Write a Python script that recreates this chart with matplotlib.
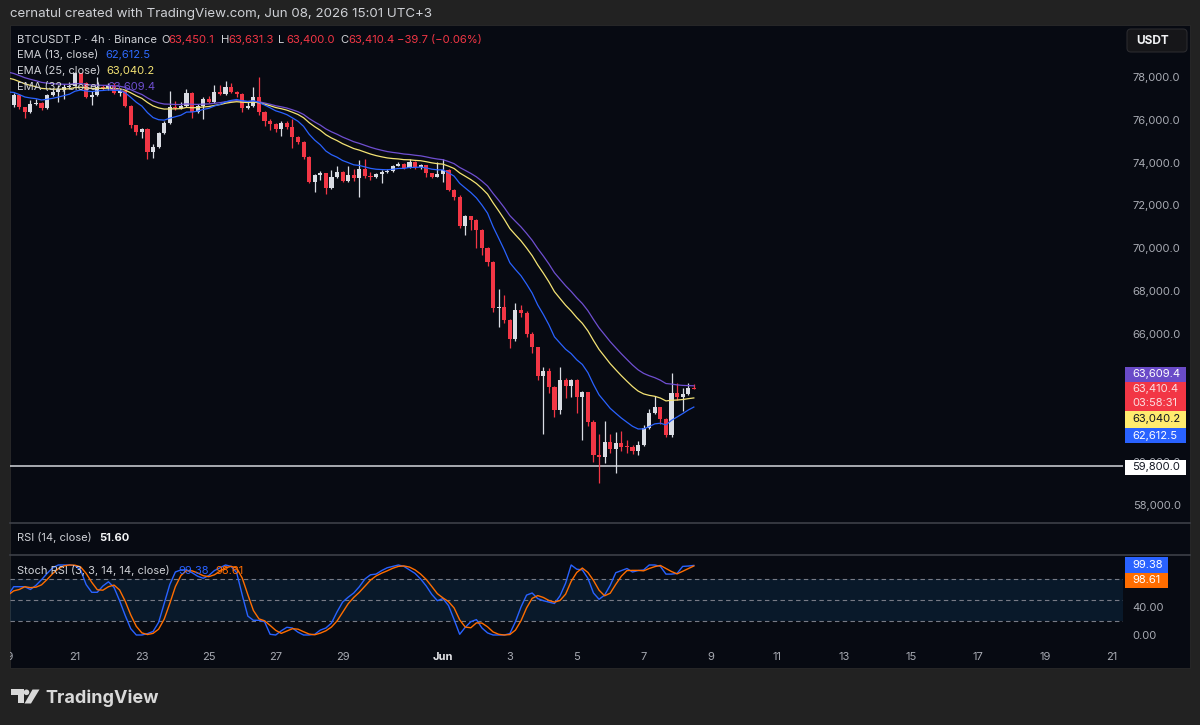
import numpy as np
import pandas as pd
import matplotlib
matplotlib.use("Agg")
import matplotlib.pyplot as plt
from matplotlib.patches import Rectangle, FancyBboxPatch, Polygon, Circle
from matplotlib.lines import Line2D
from matplotlib.transforms import Affine2D, Bbox, TransformedBbox

# ---- data (4h candles, BTCUSDT.P, from May 19) ----
first_open = 76920

closes = [
    76690, 77160, 76580, 76380, 76740, 76800, 76550, 77160, 77280, 77390,
    77550, 77600, 78170, 77730, 77080, 77150, 77550, 77480, 77560, 77240,
    77330, 76640, 75760, 75440, 75560, 74510, 74720, 75400, 75870, 76610,
    76550, 76650, 77240, 76380, 76660, 76960, 76850, 77280, 77200, 77520,
    77320, 77200, 76540, 76650, 77080, 76380, 75940, 75800, 75560, 75860,
    75650, 75180, 74980, 74270, 73110, 73400, 73520, 72800, 73340, 73550,
    73160, 73420, 73270, 73700, 73390, 73320, 73450, 73580, 73600, 73840,
    73940, 73750, 74050, 73780, 73890, 73500, 73350, 73480, 73650, 72720,
    72410, 71030, 71500, 71320, 70840, 70000, 69370, 67190, 67250, 66640,
    65740, 67110, 66950, 65990, 65370, 64030, 64260, 63520, 62460, 63820,
    63560, 63830, 63060, 63270, 61890, 60330, 60230, 60960, 60600, 60910,
    60720, 60700, 60540, 60800, 61580, 62310, 62560, 62000, 61270, 63250,
    63040, 63210, 63450.1, 63410.4,
]

highs = [
    76950, 77250, 77200, 76620, 76920, 76950, 76850, 77200, 77470, 77620,
    77680, 77750, 78250, 78200, 77750, 77330, 77980, 77620, 77700, 77700,
    77450, 77400, 76700, 75780, 75600, 75600, 74870, 75450, 75950, 77330,
    76900, 76850, 77460, 77300, 76750, 77050, 77100, 77630, 77630, 77790,
    77700, 77350, 77250, 76900, 77550, 78020, 76400, 76050, 75850, 75950,
    75950, 76030, 75250, 75030, 74330, 73460, 73610, 73520, 73650, 73830,
    73600, 73830, 73700, 74120, 74160, 73560, 73500, 73650, 73700, 73900,
    74050, 74000, 74150, 74060, 73950, 73900, 73520, 74050, 74150, 73700,
    72750, 72500, 71550, 71520, 71350, 70880, 70050, 69400, 68080, 67800,
    66680, 67420, 67350, 67050, 66100, 65400, 64460, 64400, 63550, 64430,
    63950, 63900, 63880, 63350, 63300, 61950, 61300, 61940, 61300, 61400,
    61450, 61050, 60800, 61000, 61750, 62500, 63080, 62600, 62050, 64180,
    63700, 63450, 63700, 63631.3,
]

lows = [
    76600, 76580, 76500, 76080, 76330, 76700, 76450, 76500, 77100, 76850,
    76960, 77450, 77600, 77650, 77000, 76700, 77100, 77380, 77400, 77200,
    77100, 76600, 75600, 75290, 75130, 74150, 74200, 74680, 75350, 75800,
    76450, 76500, 76600, 76080, 76300, 76040, 76800, 76800, 77150, 77150,
    77250, 77050, 76380, 76500, 76600, 76230, 75690, 75520, 75450, 75240,
    75550, 74670, 74880, 74150, 73030, 72640, 73200, 72530, 72780, 73300,
    73100, 73100, 73150, 72380, 73300, 73210, 73300, 73060, 73520, 73580,
    73820, 73700, 73730, 73700, 73700, 73340, 73300, 73340, 73110, 72650,
    72250, 70950, 70620, 70860, 70030, 69670, 69150, 67000, 66330, 66500,
    65320, 65650, 66800, 65850, 65100, 63850, 61300, 63250, 62130, 62250,
    63000, 63030, 62280, 61040, 61700, 60030, 59010, 59950, 60450, 59480,
    60500, 60450, 60400, 60350, 60750, 61550, 62250, 61800, 61160, 61200,
    62900, 62370, 63150, 63400.0,
]

# EMA values at the first visible candle
ema_seeds = {13: 77300, 25: 77950, 32: 78230}

stoch_k = [
    57, 69, 69, 69, 65, 71, 79, 88, 96, 100,
    100, 100, 99, 93, 72, 61, 61, 70, 76, 68,
    49, 28, 9, 0, 0, 2, 5, 18, 45, 72,
    90, 93, 93, 89, 84, 81, 85, 92, 96, 100,
    98, 89, 57, 27, 21, 21, 19, 1, 0, 6,
    11, 10, 4, 0, 0, 1, 7, 10, 17, 33,
    47, 54, 60, 69, 80, 86, 87, 92, 96, 98,
    100, 98, 93, 88, 80, 70, 58, 49, 52, 42,
    22, 1, 11, 19, 22, 10, 3, 0, 0, 0,
    2, 19, 40, 57, 60, 52, 49, 47, 45, 56,
    74, 100, 94, 93, 81, 60, 51, 57, 71, 89,
    92, 95, 90, 92, 93, 100, 100, 98, 87, 87,
    88, 98, 98.5, 99.38,
]

support_level = 59800

price_ticks = [58000, 60000, 66000, 68000, 70000, 72000, 74000, 76000, 78000]

date_ticks = [0, 2, 4, 6, 8, 10, 13, 15, 17, 19, 21, 23, 25, 27, 29, 31, 33]
date_labels = ["19", "21", "23", "25", "27", "29", "Jun", "3", "5", "7", "9",
               "11", "13", "15", "17", "19", "21"]

# ---- layout helpers (pixel space, y from top) ----
W, H = 1200, 725
BG = "#222222"
PANE = "#070a12"
UP = "#d9dce3"
DOWN = "#f23645"
GRAY = "#a8abb3"
TXT = "#cfd1d6"


def rect(x0, y0, x1, y1):
    return [x0 / W, 1 - y1 / H, (x1 - x0) / W, (y1 - y0) / H]


def px_day(p):
    return (p - 8.1) / 33.45


def px_price(p):
    return 78000 - (p - 77) * 2000 / 42.8


def px_stoch(p):
    return (635 - p) / 0.7


def ema(vals, n, seed):
    a = 2 / (n + 1)
    out = np.empty(len(vals))
    e = seed
    for i, v in enumerate(vals):
        if i > 0:
            e = e + a * (v - e)
        out[i] = e
    return out


plt.rcParams["font.family"] = ["Inter", "DejaVu Sans"]

fig = plt.figure(figsize=(12, 7.25), dpi=100, facecolor=BG)
PX = Affine2D().scale(1 / W, -1 / H).translate(0, 1) + fig.transFigure

fig.add_artist(Rectangle((10, 25), 1180, 643, transform=PX, facecolor=PANE,
                         edgecolor="#2a2a2a", lw=0.6, zorder=-1))

closes = np.array(closes, dtype=float)
highs = np.array(highs, dtype=float)
lows = np.array(lows, dtype=float)
opens = np.r_[first_open, closes[:-1]]
days = np.arange(len(closes)) / 6
cols = np.where(closes >= opens, UP, DOWN)

# ---- price pane ----
ax = fig.add_axes(rect(10, 25, 1123, 523))
ax.set_facecolor("none")
for s in ax.spines.values():
    s.set_visible(False)

ax.vlines(days, lows, highs, colors=cols, lw=0.9, zorder=2)
ax.bar(days, np.maximum(np.abs(closes - opens), 35), bottom=np.minimum(opens, closes),
       width=0.74 / 6, color=cols, lw=0, zorder=3)

ema_colors = {13: "#2962ff", 25: "#f4e374", 32: "#6f4fd1"}
for n in (32, 25, 13):
    ax.plot(days, ema(closes, n, ema_seeds[n]), color=ema_colors[n], lw=0.9, zorder=4)

ax.axhline(support_level, color="#c3c6cc", lw=1.2, zorder=1)

ax.set_xlim(px_day(10), px_day(1123))
ax.set_ylim(px_price(523), px_price(25))
ax.set_xticks([])
ax.yaxis.tick_right()
ax.set_yticks(price_ticks)
ax.set_yticklabels([f"{v:,.1f}" for v in price_ticks])
ax.tick_params(axis="y", length=0, pad=7, labelsize=8, labelcolor=GRAY)

# ---- stoch rsi pane ----
k = pd.Series(stoch_k, dtype=float)
d = k.rolling(3, min_periods=1).mean()

ax2 = fig.add_axes(rect(10, 555, 1123, 645))
ax2.set_facecolor("none")
for s in ax2.spines.values():
    s.set_visible(False)
ax2.axhspan(20, 80, color="#2196f3", alpha=0.11, lw=0)
for lv in (80, 50, 20):
    ax2.axhline(lv, color="#787b86", lw=0.8, ls=(0, (4, 3)))
ax2.plot(days, k, color="#2962ff", lw=1.0)
ax2.plot(days, d, color="#ff6d00", lw=1.0)
ax2.set_xlim(px_day(10), px_day(1123))
ax2.set_ylim(px_stoch(645), px_stoch(555))
ax2.yaxis.tick_right()
ax2.set_yticks([0, 40])
ax2.set_yticklabels(["0.00", "40.00"])
ax2.tick_params(axis="y", length=0, pad=7, labelsize=8, labelcolor=GRAY)
ax2.set_xticks(date_ticks[1:])
ax2.set_xticklabels(date_labels[1:])
ax2.tick_params(axis="x", length=0, pad=5, labelsize=8, labelcolor=GRAY)
for lab in ax2.get_xticklabels():
    if lab.get_text() == "Jun":
        lab.set_color("#e6e7ea")
        lab.set_fontweight("bold")

# first date label, cut by the pane edge
t19 = fig.text(8.1 + date_ticks[0] * 33.45, 657, date_labels[0], transform=PX, ha="center",
               va="center", fontsize=8, color=GRAY)
t19.set_clip_box(TransformedBbox(Bbox([[10 / W, 0], [1, 1]]), fig.transFigure))
t19.set_clip_on(True)

# pane separators
for yy in (523.5, 555):
    fig.add_artist(Line2D([10, 1190], [yy, yy], transform=PX, color="#3d4048", lw=1.2))


# ---- texts ----
def t(x, y, s, color=TXT, size=8, **kw):
    return fig.text(x, y, s, transform=PX, color=color, fontsize=size, va="center", ha="left",
                    zorder=6, **kw)


t(10, 14.5, "cernatul created with TradingView.com, Jun 08, 2026 15:01 UTC+3", size=9.6)

t(17, 40, "BTCUSDT.P · 4h · Binance", size=8.1)
for lx, letter, vx, val in [(161, "O", 168.5, "63,450.1"), (220.7, "H", 228.5, "63,631.3"),
                            (278.3, "L", 286, "63,400.0"), (340.7, "C", 348.5, "63,410.4")]:
    t(lx, 40, letter, size=8.1)
    t(vx, 40, val, color=DOWN, size=8.1)
t(396.7, 40, "−39.7 (−0.06%)", color=DOWN, size=8.1)

t(17, 55, "EMA (13, close)")
t(105, 55, "62,612.5", color="#2f6bff")
t(17, 71, "EMA (25, close)")
t(106.7, 71, "63,040.2", color="#f4e374")
t(17, 87, "EMA (32, close)")
t(107.5, 87, "63,609.4", color="#6f4fd1")

t(17, 538, "RSI (14, close)")
t(99, 538, "51.60", color="#f2f3f5", fontweight="bold")
t(17, 571, "Stoch RSI (3, 3, 14, 14, close)")
t(178, 571, "99.38", color="#2962ff")
t(215, 571, "98.61", color="#ff6d00")


# price scale tags
def tag(y0, y1, x1, fc, rows, tc):
    fig.add_artist(Rectangle((1125, y0), x1 - 1125, y1 - y0, transform=PX, facecolor=fc,
                             lw=0, zorder=4))
    for ty, s in rows:
        t(1132.5, ty, s, color=tc)


tag(366.7, 381.7, 1186, "#6a4bc8", [(374.2, "63,609.4")], "#ffffff")
tag(381.7, 410.7, 1186, DOWN, [(389.3, "63,410.4"), (403.3, "03:58:31")], "#fbe0e2")
tag(410.7, 427.7, 1186, "#ffeb6e", [(419.2, "63,040.2")], "#131722")
tag(427.7, 443.5, 1186, "#2962ff", [(435.6, "62,612.5")], "#ffffff")
tag(460, 475, 1186, "#ffffff", [(467.5, "59,800.0")], "#131722")
tag(557, 572.7, 1168.3, "#2962ff", [(565, "99.38")], "#ffffff")
tag(572.7, 588.3, 1168.3, "#ff6d00", [(580.5, "98.61")], "#ffffff")

# currency button
fig.add_artist(FancyBboxPatch((1127, 29), 60, 23, boxstyle="round,pad=0,rounding_size=4",
                              transform=PX, facecolor="#161619", edgecolor="#2a2a2e",
                              lw=0.8, zorder=5))
t(1136, 41, "USDT", color="#f2f3f5", size=8.5, fontweight="bold")

# TradingView logo
logo = "#d9d9d9"
fig.add_artist(Polygon([(11, 689.5), (23.5, 689.5), (23.5, 703.5), (17.5, 703.5),
                        (17.5, 695), (11, 695)], closed=True, transform=PX,
                       facecolor=logo, lw=0))
fig.add_artist(Circle((26.5, 692.3), 2.8, transform=PX, facecolor=logo, lw=0))
fig.add_artist(Polygon([(32.5, 689.5), (39.5, 689.5), (31, 703.5), (24.5, 703.5)],
                       closed=True, transform=PX, facecolor=logo, lw=0))
fig.text(45.5, 703.3, "TradingView", transform=PX, color=logo, fontsize=13,
         fontweight="bold", va="baseline", ha="left")

fig.savefig("out.png", dpi=100, facecolor=BG)
